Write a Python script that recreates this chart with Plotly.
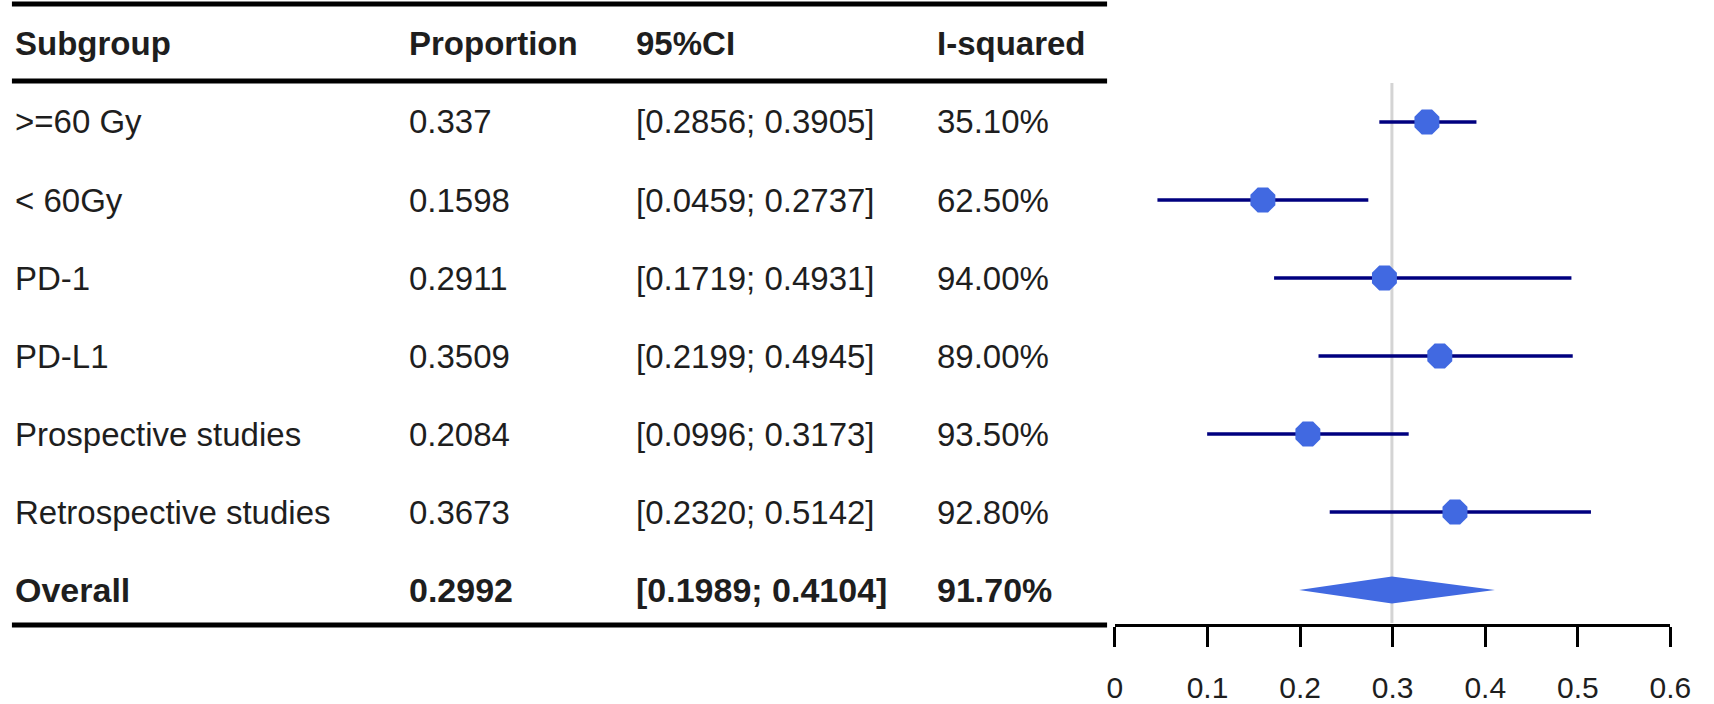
"""Forest plot of subgroup proportions with a text table on the left."""
import plotly.graph_objects as go

W, H = 1714, 704

subgroups = [">=60 Gy", "< 60Gy", "PD-1", "PD-L1", "Prospective studies",
             "Retrospective studies", "Overall"]
proportion = [0.337, 0.1598, 0.2911, 0.3509, 0.2084, 0.3673, 0.2992]
ci_low = [0.2856, 0.0459, 0.1719, 0.2199, 0.0996, 0.2320, 0.1989]
ci_high = [0.3905, 0.2737, 0.4931, 0.4945, 0.3173, 0.5142, 0.4104]
i_squared = [35.10, 62.50, 94.00, 89.00, 93.50, 92.80, 91.70]
headers = ["Subgroup", "Proportion", "95%CI", "I-squared"]
tick_vals = [0, 0.1, 0.2, 0.3, 0.4, 0.5, 0.6]
tick_text = ["0", "0.1", "0.2", "0.3", "0.4", "0.5", "0.6"]

FONT = "Liberation Sans, Arial, sans-serif"
TXT = "#1e1e1e"
NAVY = "#00007f"
BLUE = "#4169e1"


# pixel helpers (page pixels -> paper fractions)
def px(x):
    return x / W


def py(y):
    return 1 - y / H


rows = list(range(1, len(subgroups) + 1))
n = len(subgroups)

fig = go.Figure()

# CI whiskers + point estimates for the subgroups
for i in range(n - 1):
    fig.add_trace(go.Scatter(
        x=[ci_low[i], ci_high[i]], y=[rows[i], rows[i]],
        mode="lines", line=dict(color=NAVY, width=3.5),
        hoverinfo="skip", showlegend=False))
fig.add_trace(go.Scatter(
    x=proportion[:-1], y=rows[:-1], mode="markers",
    marker=dict(symbol="octagon", size=27, color=BLUE, line=dict(width=0)),
    showlegend=False))

# pooled diamond
h = 0.173
k = n - 1
fig.add_trace(go.Scatter(
    x=[ci_low[k], proportion[k], ci_high[k], proportion[k], ci_low[k]],
    y=[rows[k], rows[k] - h, rows[k], rows[k] + h, rows[k]],
    mode="lines", fill="toself", fillcolor=BLUE, line=dict(width=0, color=BLUE),
    hoverinfo="skip", showlegend=False))

# table text
cols_px = [5, 406, 637, 943]
ann = []
for j, t in enumerate(headers):
    ann.append(dict(x=px(cols_px[j]), y=0, xref="paper", yref="y", text=f"<b>{t}</b>",
                    xanchor="left", yanchor="middle", showarrow=False,
                    font=dict(family=FONT, size=33, color=TXT)))
for i in range(n):
    cells = [subgroups[i].replace("<", "&lt;"), str(proportion[i]),
             f"[{ci_low[i]:.4f}; {ci_high[i]:.4f}]", f"{i_squared[i]:.2f}%"]
    for j, t in enumerate(cells):
        size = 33
        if i == n - 1:
            t = f"<b>{t}</b>"
            size = 34
        ann.append(dict(x=px(cols_px[j]), y=rows[i], xref="paper", yref="y", text=t,
                        xanchor="left", yanchor="middle", showarrow=False,
                        font=dict(family=FONT, size=size, color=TXT)))

shapes = [
    # table rules
    dict(type="line", xref="paper", yref="paper", x0=px(4), x1=px(1118),
         y0=py(4), y1=py(4), line=dict(color="black", width=5)),
    dict(type="line", xref="paper", yref="paper", x0=px(4), x1=px(1118),
         y0=py(81), y1=py(81), line=dict(color="black", width=5)),
    dict(type="line", xref="paper", yref="paper", x0=px(4), x1=px(1118),
         y0=py(625), y1=py(625), line=dict(color="black", width=5)),
    # reference line at the pooled estimate
    dict(type="line", xref="x", yref="paper", x0=proportion[-1], x1=proportion[-1],
         y0=py(83), y1=py(623), line=dict(color="#d4d4d4", width=3), layer="below"),
]

fig.update_layout(
    width=W, height=H,
    margin=dict(l=0, r=0, t=0, b=0),
    paper_bgcolor="white", plot_bgcolor="white",
    annotations=ann, shapes=shapes,
    xaxis=dict(
        domain=[px(1126), px(1691)], range=[0, 0.6],
        anchor="free", position=py(625),
        showline=True, linecolor="black", linewidth=3,
        ticks="outside", ticklen=20, tickwidth=3, tickcolor="black",
        tickvals=tick_vals, ticktext=tick_text, ticklabelstandoff=15,
        ticklabeloverflow="allow",
        tickfont=dict(family=FONT, size=30, color=TXT),
        showgrid=False, zeroline=False, fixedrange=True),
    yaxis=dict(
        domain=[0, 1], range=[8.4615, -0.564], visible=False,
        showgrid=False, zeroline=False, fixedrange=True),
)

# the page template keeps the browser's default 8px body margin; drop it
fig.write_html("out.html", config={"displayModeBar": False},
               post_script="document.body.style.margin='0';"
                           "document.body.style.overflow='hidden';")
